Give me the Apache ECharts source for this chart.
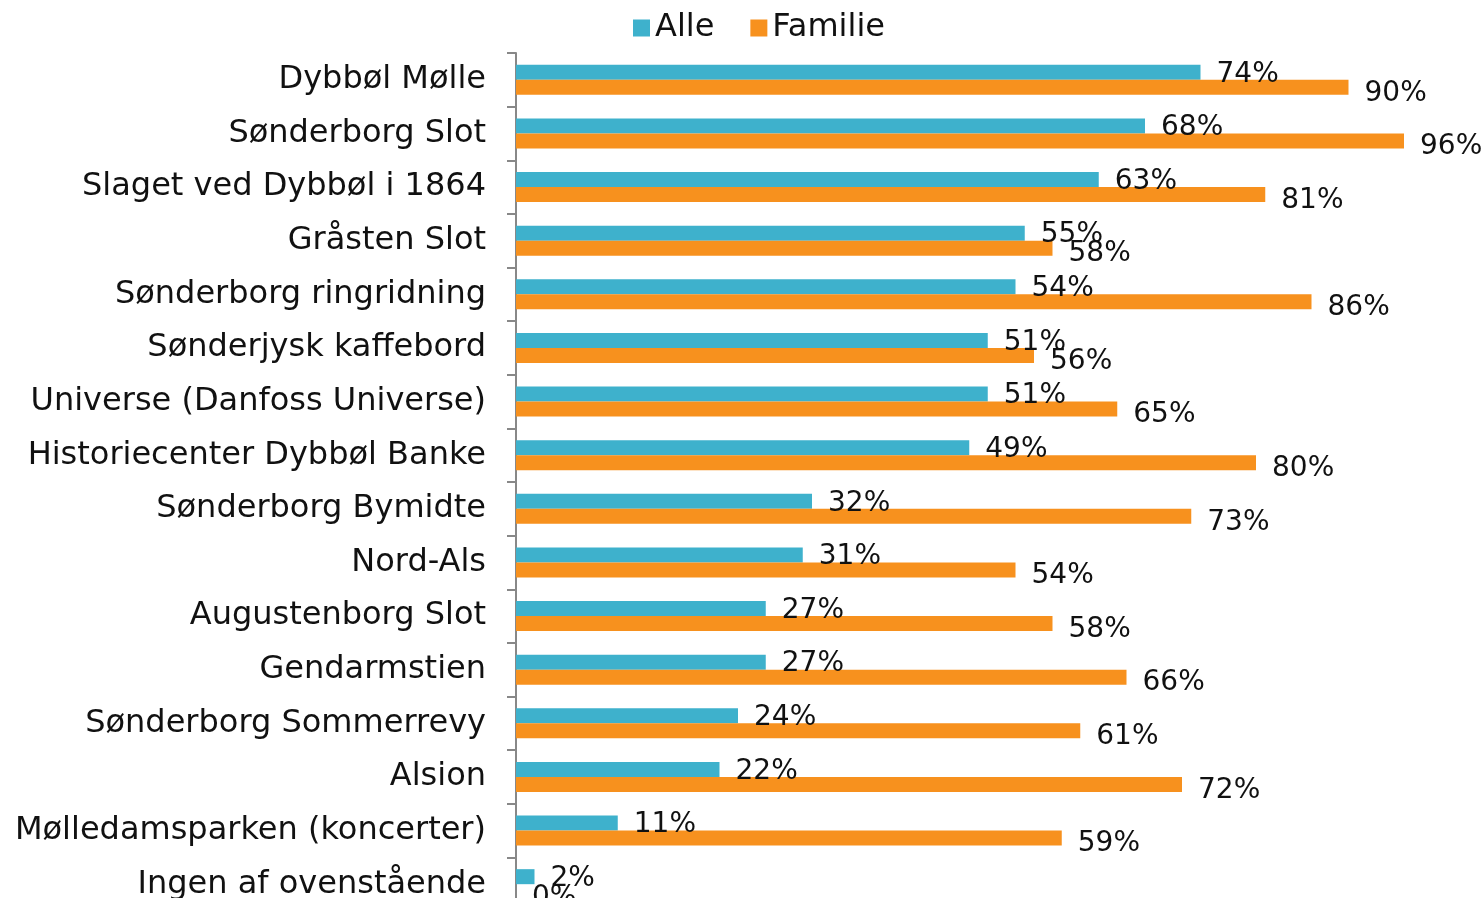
<!DOCTYPE html>
<html>
<head>
<meta charset="utf-8">
<script src="https://cdn.jsdelivr.net/npm/echarts@6/dist/echarts.min.js"></script>
<style>
  html, body { margin: 0; padding: 0; background: #fff; }
  #chart { width: 1482px; height: 898px; }
</style>
</head>
<body>
<div id="chart"></div>
<script>
const categories = [
  'Dybbøl Mølle',
  'Sønderborg Slot',
  'Slaget ved Dybbøl i 1864',
  'Gråsten Slot',
  'Sønderborg ringridning',
  'Sønderjysk kaffebord',
  'Universe (Danfoss Universe)',
  'Historiecenter Dybbøl Banke',
  'Sønderborg Bymidte',
  'Nord-Als',
  'Augustenborg Slot',
  'Gendarmstien',
  'Sønderborg Sommerrevy',
  'Alsion',
  'Mølledamsparken (koncerter)',
  'Ingen af ovenstående',
]
const alle = [74, 68, 63, 55, 54, 51, 51, 49, 32, 31, 27, 27, 24, 22, 11, 2]
const familie = [90, 96, 81, 58, 86, 56, 65, 80, 73, 54, 58, 66, 61, 72, 59, 0]

const font = 'DejaVu Sans, Verdana, sans-serif'
const instance = echarts.init(document.getElementById('chart'))

function makeSeries(name, data, color, dy) {
  return {
    name: name,
    type: 'bar',
    data: data,
    barGap: '0%',
    barCategoryGap: '44%',
    itemStyle: { color: color },
    label: {
      show: true,
      position: 'right',
      distance: 16,
      offset: [0, dy],
      formatter: '{c}%',
      color: '#111',
      fontFamily: font,
      fontSize: 28,
    },
  }
}

const options = {
  animation: false,
  legend: {
    top: 7,
    left: 628,
    itemWidth: 17,
    itemHeight: 17,
    itemGap: 36,
    icon: 'rect',
    textStyle: { color: '#111', fontFamily: font, fontSize: 32 },
    data: ['Alle', 'Familie'],
  },
  grid: {
    left: 516,
    top: 53,
    right: 41,
    bottom: -13, // last category runs past the bottom edge, like the original
    outerBoundsMode: 'none',
  },
  xAxis: {
    type: 'value',
    min: 0,
    max: 100,
    show: false,
  },
  yAxis: {
    type: 'category',
    inverse: true,
    data: categories,
    axisLine: { show: true, lineStyle: { color: '#888', width: 2 } },
    axisTick: { show: true, length: 9, lineStyle: { color: '#888', width: 2 } },
    axisLabel: {
      color: '#111',
      fontFamily: font,
      fontSize: 32,
      margin: 30,
      padding: [4, 0, 0, 0],
    },
    splitLine: { show: false },
  },
  series: [
    makeSeries('Alle', alle, '#3eb1cc', 2),
    makeSeries('Familie', familie, '#f7911e', 6),
  ],
}
instance.setOption(options)
</script>
</body>
</html>
